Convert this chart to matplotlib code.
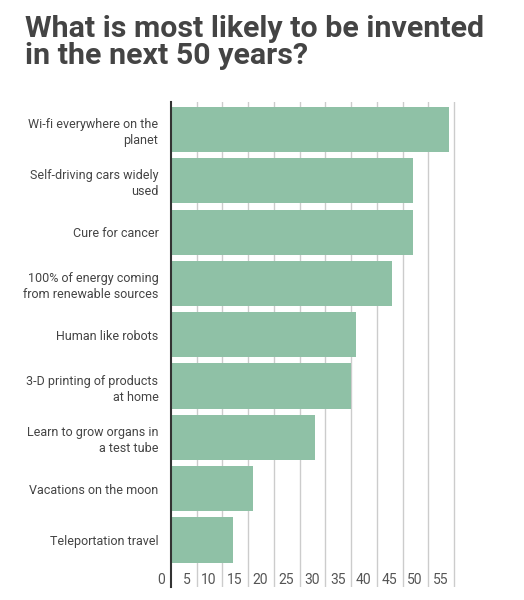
import matplotlib
matplotlib.use('Agg')
import matplotlib.pyplot as plt

plt.rcParams['font.family'] = ['Roboto', 'DejaVu Sans']

# data
categories = ['Wi-fi everywhere on the\nplanet',
              'Self-driving cars widely\nused',
              'Cure for cancer',
              '100% of energy coming\nfrom renewable sources',
              'Human like robots',
              '3-D printing of products\nat home',
              'Learn to grow organs in\na test tube',
              'Vacations on the moon',
              'Teleportation travel']
values = [54, 47, 47, 43, 36, 35, 28, 16, 12]
ticks = [0, 5, 10, 15, 20, 25, 30, 35, 40, 45, 50, 55]

fig = plt.figure(figsize=(5.24, 6.0), dpi=100)
ax = fig.add_axes([171/524, 13/600, (56*5.145)/524, 485/600])

pos = list(range(len(categories)))
ax.barh(pos, values, height=0.88, color='#8fc1a6', zorder=2)
ax.set_xlim(0, 56)
ax.set_ylim(8.916, -0.536)

# gridlines behind the bars
for t in ticks[1:]:
    ax.axvline(t, color='#cccccc', lw=1, zorder=1)

for s in ['top', 'right', 'bottom']:
    ax.spines[s].set_visible(False)
ax.spines['left'].set_color('#333333')
ax.spines['left'].set_linewidth(1.5)
ax.spines['left'].set_zorder(3)

ax.set_xticks([])
ax.set_yticks(pos)
ax.set_yticklabels(categories, fontsize=9.0, color='#444444', linespacing=1.3)
ax.tick_params(axis='y', length=0, pad=9)

# tick labels sit just left of each gridline, inside the plot
for t in ticks:
    ax.text(t - 1.1, 8.78, str(t), ha='right', va='center',
            fontsize=10, color='#555555')

fig.text(25/524, 1 - 64/600, 'What is most likely to be invented\nin the next 50 years?',
         fontsize=21.9, fontweight='bold', color='#444444', ha='left', va='baseline',
         linespacing=0.95)

fig.savefig('out.png', dpi=100)
